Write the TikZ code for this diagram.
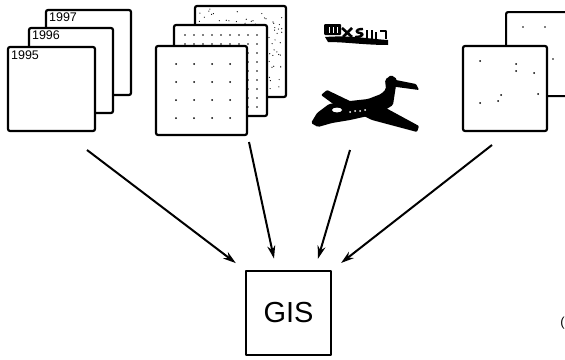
\documentclass[tikz,border=0pt]{standalone}
\usepackage{fontspec}
\setmainfont{Liberation Sans}
\usetikzlibrary{arrows.meta}

\begin{document}
\begin{tikzpicture}[x=1pt, y=-1pt, >={Stealth[length=13pt,width=8pt]}, line join=round,
    sheet/.style={draw, fill=white, line width=2.2pt, rounded corners=2pt, inner sep=0pt},
    year/.style={anchor=north west, inner sep=0pt, font=\fontsize{12.5}{12.5}\selectfont},
    flow/.style={->, line width=2pt, shorten >=12pt}]
  \useasboundingbox (0,0) rectangle (565,359);

  \node[sheet, minimum width=85pt, minimum height=85pt] (y97) at (88.5,52.5) {};
  \node[year] (t97) at ([shift={(4pt,-4pt)}]y97.north west) {1997};
  \node[sheet, minimum width=84pt, minimum height=85pt] (y96) at (71,70.5) {};
  \node[year] (t96) at ([shift={(4pt,-4pt)}]y96.north west) {1996};
  \node[sheet, minimum width=87pt, minimum height=84pt] (y95) at (51.5,89) {};
  \node[year] (t95) at ([shift={(4pt,-5pt)}]y95.north west) {1995};

  \node[sheet, minimum width=91pt, minimum height=91pt] (img3) at (240.5,51.5) {};
  \pgfmathsetseed{42}
  \foreach \i in {1,...,150} \fill ({198+85*rnd},{9+85*rnd}) circle (0.6pt);
  \node[sheet, minimum width=93pt, minimum height=91pt] (img2) at (220.5,70.5) {};
  \foreach \x in {185,194,...,257} \foreach \y in {35,44,...,107} \fill (\x,\y) circle (0.8pt);
  \node[sheet, minimum width=91pt, minimum height=89pt] (img1) at (201.5,90.5) {};
  \foreach \x in {176,194,212,230} \foreach \y in {64,82,100,118} \fill (\x,\y) circle (1pt);

  \node[sheet, minimum width=90pt, minimum height=84pt, anchor=north west] (img5) at (505,11) {};
  \foreach \p in {(523,27),(545,27),(553,59)} \fill \p circle (0.9pt);
  \node[sheet, minimum width=84pt, minimum height=85pt] (img4) at (505,88.5) {};
  \foreach \p in {(480,61),(516,64),(516,71),(534,73),(501,95),(498,101),(480,103),(538,94)} \fill \p circle (1pt);

  % satellite logo
  \fill[rounded corners=1pt] (324,24) rectangle (341,35);
  \foreach \x in {329,333,337} \draw[white, line width=0.9pt] (\x,27) -- (\x,33);
  \fill (325,37) .. controls (350,35) and (370,39) .. (388,40) -- (388,45) .. controls (365,45) and (345,42) .. (328,42) -- cycle;
  \draw[line width=2.6pt] (342,28) -- (352,37) (352,28) -- (343,37);
  \draw[line width=2.4pt] (363,29) .. controls (354,29) and (356,33) .. (360,33) .. controls (364,33) and (364,37) .. (355,37);
  \draw[line width=2.4pt] (367,30) -- (367,39) (372,30) -- (372,39) (376,32) -- (376,39) (380,31) -- (386,31) -- (386,39);

  % aircraft
  \fill[rounded corners=1.5pt] (311,123) -- (317,113) -- (329,104) -- (350,101) -- (368,99) -- (381,94) -- (386,89) -- (385,80) -- (391,75) -- (397,79) -- (395,92) -- (393,105) -- (385,110) -- (368,116) -- (350,120) -- (332,123) -- (318,127) -- cycle;
  \fill[rounded corners=1pt] (386,78) -- (416,84) -- (419,90) -- (389,86) -- cycle;
  \fill[rounded corners=1pt] (360,114) -- (384,107) -- (419,126) -- (417,132) -- (372,120) -- cycle;
  \fill[rounded corners=1pt] (336,106) -- (321,95) -- (327,90) -- (352,102) -- cycle;
  \fill[white] (337,110) ellipse (5pt and 2.4pt);
  \foreach \x/\y in {350/112,355/111,360/111,365/110} \fill[white] (\x,\y) circle (1pt);

  \node[draw, line width=1.3pt, minimum width=85pt, minimum height=84pt, font=\fontsize{29}{34}\selectfont] (gis) at (288.5,313) {GIS};
  \node[anchor=east, inner sep=0pt, font=\fontsize{13}{13}\selectfont] (cut) at (565,323) {(};

  \coordinate (s1) at (87,150);
  \coordinate (s2) at (249,142);
  \coordinate (s3) at (350,150);
  \coordinate (s4) at (492,145);
  \draw[flow] (s1) -- (gis.north west);
  \draw[flow] (s2) -- ([xshift=-12pt]gis.north);
  \draw[flow] (s3) -- ([xshift=26pt]gis.north);
  \draw[flow] (s4) -- (gis.north east);
\end{tikzpicture}
\end{document}
